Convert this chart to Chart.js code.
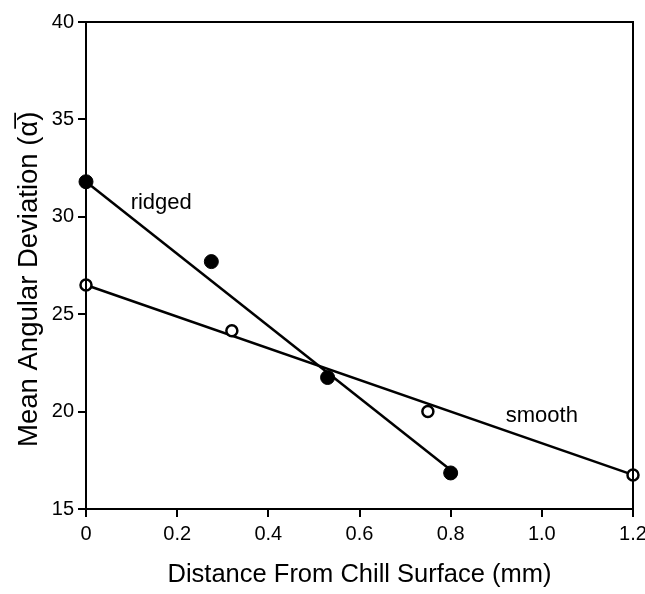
<!DOCTYPE html>
<html>
<head>
<meta charset="utf-8">
<script src="https://cdn.jsdelivr.net/npm/chart.js@4/dist/chart.umd.min.js"></script>
<style>
  html, body { margin: 0; padding: 0; background: #fff; }
  #wrap { width: 645px; height: 594px; }
</style>
</head>
<body>
<div id="wrap"><canvas id="grafica"></canvas></div>
<script>
// Puntos medidos
const ridgedX = [0, 0.275, 0.53, 0.8];
const ridgedY = [31.8, 27.7, 21.75, 16.85];
const smoothX = [0, 0.32, 0.75, 1.2];
const smoothY = [26.5, 24.15, 20.0, 16.75];

// Rectas de ajuste (extremos)
const ridgedFitX = [0, 0.8];
const ridgedFitY = [31.8, 17.0];
const smoothFitX = [0, 1.2];
const smoothFitY = [26.5, 16.75];

// Etiquetas de las series
const seriesLabels = ['ridged', 'smooth'];
const labelX = [0.165, 1.0];
const labelY = [30.7, 19.8];

const xTicks = [0, 0.2, 0.4, 0.6, 0.8, 1.0, 1.2];
const yTicks = [15, 20, 25, 30, 35, 40];

const toPts = (xs, ys) => xs.map((x, i) => ({ x: x, y: ys[i] }));

const FUENTE = '"Liberation Sans", Arial, sans-serif';

// Marco completo y textos sobre el gráfico
const marco = {
    id: 'marco',
    afterDatasetsDraw(chart) {
        const { ctx, chartArea: a, scales } = chart;
        ctx.save();
        ctx.strokeStyle = '#000';
        ctx.lineWidth = 2;
        ctx.strokeRect(a.left, a.top, a.right - a.left, a.bottom - a.top);
        ctx.fillStyle = '#000';
        ctx.font = '22px ' + FUENTE;
        ctx.textAlign = 'center';
        ctx.textBaseline = 'middle';
        seriesLabels.forEach((t, i) => {
            ctx.fillText(t, scales.x.getPixelForValue(labelX[i]), scales.y.getPixelForValue(labelY[i]));
        });
        ctx.restore();
    }
};

const ejeGrid = {
    display: true,
    drawOnChartArea: false,
    drawTicks: true,
    tickLength: 8,
    color: '#000',
    tickColor: '#000',
    lineWidth: 2,
    tickWidth: 2
};

const ctx = document.getElementById('grafica').getContext('2d');
new Chart(ctx, {
    type: 'scatter',
    data: {
        datasets: [
            {
                label: 'ridged fit',
                data: toPts(ridgedFitX, ridgedFitY),
                showLine: true,
                borderColor: '#000',
                borderWidth: 2.5,
                pointRadius: 0,
                order: 3
            },
            {
                label: 'smooth fit',
                data: toPts(smoothFitX, smoothFitY),
                showLine: true,
                borderColor: '#000',
                borderWidth: 2.5,
                pointRadius: 0,
                order: 3
            },
            {
                label: 'ridged',
                data: toPts(ridgedX, ridgedY),
                pointRadius: 7,
                pointBackgroundColor: '#000',
                pointBorderColor: '#000',
                pointBorderWidth: 1,
                order: 1
            },
            {
                label: 'smooth',
                data: toPts(smoothX, smoothY),
                pointRadius: 5.5,
                pointBackgroundColor: '#fff',
                pointBorderColor: '#000',
                pointBorderWidth: 2.5,
                order: 1
            }
        ]
    },
    options: {
        responsive: true,
        maintainAspectRatio: false,
        animation: false,
        clip: false,
        layout: { padding: { left: 0, top: 22, right: 12, bottom: 0 } },
        plugins: {
            legend: { display: false },
            tooltip: { enabled: false }
        },
        scales: {
            x: {
                type: 'linear',
                min: 0,
                max: 1.2,
                afterBuildTicks: (s) => { s.ticks = xTicks.map(v => ({ value: v })); },
                afterFit: (s) => { s.height = 85; s.paddingLeft = 0; s.paddingRight = 0; },
                grid: ejeGrid,
                border: { display: true, color: '#000', width: 2 },
                ticks: {
                    color: '#000',
                    padding: 5,
                    maxRotation: 0,
                    font: { family: FUENTE, size: 20 },
                    callback: (v) => (v === 0 ? '0' : v.toFixed(1))
                },
                title: {
                    display: true,
                    text: 'Distance From Chill Surface (mm)',
                    color: '#000',
                    font: { family: FUENTE, size: 25.5 },
                    padding: { top: 10, bottom: 4 }
                }
            },
            y: {
                type: 'linear',
                min: 15,
                max: 40,
                afterBuildTicks: (s) => { s.ticks = yTicks.map(v => ({ value: v })); },
                afterFit: (s) => { s.width = 86; s.paddingTop = 0; s.paddingBottom = 0; },
                grid: ejeGrid,
                border: { display: true, color: '#000', width: 2 },
                ticks: {
                    color: '#000',
                    padding: 4,
                    font: { family: FUENTE, size: 20 }
                },
                title: {
                    display: true,
                    text: 'Mean Angular Deviation (α\u0305)\u2003',
                    color: '#000',
                    font: { family: FUENTE, size: 27.5 },
                    padding: { top: 13, bottom: 4 }
                }
            }
        }
    },
    plugins: [marco]
});
</script>
</body>
</html>
